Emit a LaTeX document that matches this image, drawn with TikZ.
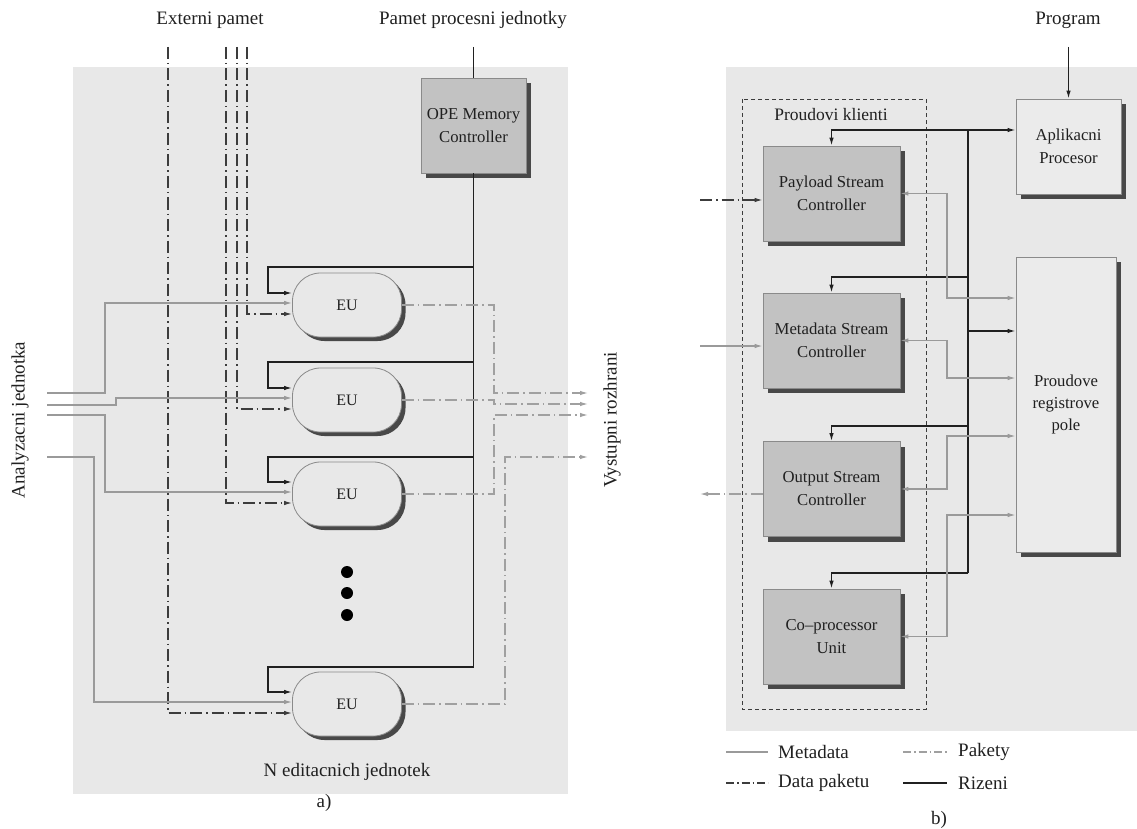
\documentclass[tikz,border=0pt]{standalone}
\usepackage{fontspec}
\setmainfont{Liberation Serif}
\usetikzlibrary{arrows.meta,calc,shadows}
\definecolor{bgray}{HTML}{E8E8E8}
\definecolor{boxg}{HTML}{C2C2C2}
\definecolor{lboxg}{HTML}{EBEBEB}
\definecolor{shad}{HTML}{484848}
\definecolor{metag}{HTML}{9A9A9A}
\definecolor{pakg}{HTML}{A0A0A0}
\definecolor{datag}{HTML}{3C3C3C}
\definecolor{ctrlk}{HTML}{202020}
\definecolor{txtk}{HTML}{202020}
\definecolor{edgeg}{HTML}{8A8A8A}
\newcommand{\lblfont}{\fontsize{19}{21}\selectfont}
\newcommand{\boxfont}{\fontsize{16.7}{21}\selectfont}
\newcommand{\eufont}{\fontsize{16}{19}\selectfont}
\begin{document}
\begin{tikzpicture}[x=1pt,y=-1pt,
  tip/.style={-{Latex[length=8pt,width=4.5pt]}},
  bitip/.style={{Latex[length=8pt,width=4.5pt]}-{Latex[length=8pt,width=4.5pt]}},
  ctrl/.style={draw=ctrlk,line width=1.3pt},
  meta/.style={draw=metag,line width=1.2pt},
  pak/.style={draw=pakg,line width=1.2pt,dash pattern=on 12pt off 4pt on 1.5pt off 4pt},
  dat/.style={draw=datag,line width=1.2pt,dash pattern=on 12pt off 4pt on 1.5pt off 4pt},
  lbl/.style={inner sep=0pt,text=txtk,font=\lblfont},
  shadowed/.style={drop shadow={shadow xshift=5pt,shadow yshift=-5pt,fill=shad,opacity=1}},
  darkbox/.style={shadowed,draw=edgeg,line width=0.8pt,fill=boxg,text=txtk,font=\boxfont,align=center,inner sep=0pt},
  lightbox/.style={shadowed,draw=edgeg,line width=0.8pt,fill=lboxg,text=txtk,font=\boxfont,align=center,inner sep=0pt},
  eunode/.style={drop shadow={shadow xshift=4pt,shadow yshift=-4pt,fill=shad,opacity=1},
    draw=edgeg,line width=0.8pt,fill=bgray,rounded corners=28pt,minimum width=109pt,minimum height=64pt,
    text=txtk,font=\eufont,inner sep=0pt}
]
\useasboundingbox (0,0) rectangle (1137,829);
\fill[white] (0,0) rectangle (1137,829);

% ================= panel a) =================
\fill[bgray] (73,67) rectangle (568,794);

\node[lbl] (extl) at (210,20) {Externi pamet};
\node[lbl] (ppj) at (473,20) {Pamet procesni jednotky};
\node[lbl,rotate=90] (anl) at (20,420) {Analyzacni jednotka};
\node[lbl,rotate=90] (vyl) at (612,420) {Vystupni rozhrani};
\node[lbl] (nel) at (347,772) {N editacnich jednotek};
\node[lbl] (capa) at (324,803) {a)};

\node[darkbox,minimum width=105pt,minimum height=95pt] (ope) at (473.5,125.5) {OPE Memory\\[2pt]Controller};

\node[eunode] (eu1) at (347,305) {EU};
\node[eunode] (eu2) at (347,400) {EU};
\node[eunode] (eu3) at (347,494) {EU};
\node[eunode] (eu4) at (347,704) {EU};

\foreach \yy in {572,593,615} \fill[black] (347,\yy) circle (6pt);

% memory / control bus
\coordinate (memtop) at (473.5,47);
\coordinate (busend) at (473.5,667);
\coordinate (b1) at (473.5,267);
\coordinate (b2) at (473.5,362);
\coordinate (b3) at (473.5,457);
\draw[ctrl] (memtop) -- (ope.north);
\draw[ctrl] (ope.south) -- (busend);
\draw[ctrl,tip] (b1) -| (268,293) -- ($(eu1.west)+(0,-12)$);
\draw[ctrl,tip] (b2) -| (268,388) -- ($(eu2.west)+(0,-12)$);
\draw[ctrl,tip] (b3) -| (268,482) -- ($(eu3.west)+(0,-12)$);
\draw[ctrl,tip] (busend) -| (268,692) -- ($(eu4.west)+(0,-12)$);

% external memory (data paketu)
\coordinate (d1) at (168,47);
\coordinate (d2) at (226,47);
\coordinate (d3) at (237,47);
\coordinate (d4) at (247,47);
\draw[dat,tip] (d1) |- ($(eu4.west)+(0,9)$);
\draw[dat,tip] (d2) |- ($(eu3.west)+(0,9)$);
\draw[dat,tip] (d3) |- ($(eu2.west)+(0,9)$);
\draw[dat,tip] (d4) |- ($(eu1.west)+(0,9)$);

% metadata inputs from analyzer
\coordinate (a1) at (47,393);
\coordinate (a2) at (47,405);
\coordinate (a3) at (47,415);
\coordinate (a4) at (47,457);
\draw[meta,tip] (a1) -| (105,303) -- ($(eu1.west)+(0,-2)$);
\draw[meta,tip] (a2) -- (116,405) -- (116,398) -- ($(eu2.west)+(0,-2)$);
\draw[meta,tip] (a3) -| (105,492) -- ($(eu3.west)+(0,-2)$);
\draw[meta,tip] (a4) -| (94,702) -- ($(eu4.west)+(0,-2)$);

% packet outputs
\coordinate (o1) at (588,393);
\coordinate (o2) at (588,404);
\coordinate (o3) at (588,415);
\coordinate (o4) at (588,457);
\draw[pak,tip] (eu1.east) -- (494,305) -- (494,393) -- (o1);
\draw[pak,tip] (eu2.east) -- (494,400) -- (494,404) -- (o2);
\draw[pak,tip] (eu3.east) -- (494,494) -- (494,415) -- (o3);
\draw[pak,tip] (eu4.east) -- (505,704) -- (505,457) -- (o4);

% ================= panel b) =================
\fill[bgray] (726,67) rectangle (1137,731);
\draw[draw=datag,line width=0.8pt,dash pattern=on 4pt off 3pt] (742,99) rectangle (926,709);
\node[lbl,font=\fontsize{17.5}{20}\selectfont] (pkl) at (831,115) {Proudovi klienti};
\node[lbl] (prog) at (1068,20) {Program};
\node[lbl] (capb) at (939,820) {b)};

\node[lightbox,minimum width=105pt,minimum height=95pt] (ap) at (1068.5,146.5) {Aplikacni\\[2pt]Procesor};
\node[lightbox,minimum width=100pt,minimum height=295pt] (reg) at (1066,404.5) {Proudove\\[1pt]registrove\\[1pt]pole};

\node[darkbox,minimum width=137pt,minimum height=95pt] (psc) at (831.5,193.5) {Payload Stream\\[2pt]Controller};
\node[darkbox,minimum width=137pt,minimum height=95pt] (msc) at (831.5,340.5) {Metadata Stream\\[2pt]Controller};
\node[darkbox,minimum width=137pt,minimum height=95pt] (osc) at (831.5,489) {Output Stream\\[2pt]Controller};
\node[darkbox,minimum width=137pt,minimum height=95pt] (cpu) at (831.5,636.5) {Co{\textendash}processor\\[2pt]Unit};

% program input
\coordinate (progtop) at (1068.5,47);
\draw[ctrl,tip] (progtop) -- (ap.north);

% control bus
\coordinate (c0) at (968,130);
\coordinate (c1) at (968,277);
\coordinate (cr) at (968,331);
\coordinate (c2) at (968,426);
\coordinate (c3) at (968,573);
\draw[ctrl] (c0) -- (c3);
\draw[ctrl,tip] (c0) -| (psc.north);
\draw[ctrl,tip] (c0) -- (ap.west |- c0);
\draw[ctrl,tip] (c1) -| (msc.north);
\draw[ctrl,tip] (cr) -- (reg.west |- cr);
\draw[ctrl,tip] (c2) -| (osc.north);
\draw[ctrl,tip] (c3) -| (cpu.north);

% metadata links to register file
\draw[meta,bitip] (psc.east) -- (947,193.5) -- (947,298) -- (reg.west |- 0,298);
\draw[meta,bitip] (msc.east) -- (947,340.5) -- (947,378) -- (reg.west |- 0,378);
\draw[meta,bitip] (osc.east) -- (947,489) -- (947,436) -- (reg.west |- 0,436);
\draw[meta,bitip] (cpu.east) -- (947,636.5) -- (947,515) -- (reg.west |- 0,515);

% external inputs / outputs
\coordinate (pin) at (700,200);
\coordinate (min) at (700,346);
\coordinate (oout) at (700,494);
\draw[dat,tip] (pin) -- (psc.west |- pin);
\draw[meta,tip] (min) -- (msc.west |- min);
\draw[pak,tip] (osc.west |- oout) -- (oout);

% legend
\coordinate (l1a) at (726,752); \coordinate (l1b) at (768,752);
\coordinate (l2a) at (903,752); \coordinate (l2b) at (947,752);
\coordinate (l3a) at (726,783); \coordinate (l3b) at (768,783);
\coordinate (l4a) at (903,783); \coordinate (l4b) at (947,783);
\draw[meta] (l1a) -- (l1b);
\draw[pak,dash pattern=on 8pt off 3pt on 1.5pt off 3pt] (l2a) -- (l2b);
\draw[dat,dash pattern=on 8pt off 3pt on 1.5pt off 3pt] (l3a) -- (l3b);
\draw[ctrl] (l4a) -- (l4b);
\node[lbl,anchor=west] (lg1) at (778,752) {Metadata};
\node[lbl,anchor=west] (lg2) at (958,752) {Pakety};
\node[lbl,anchor=west] (lg3) at (778,783) {Data paketu};
\node[lbl,anchor=west] (lg4) at (958,783) {Rizeni};
\end{tikzpicture}
\end{document}
